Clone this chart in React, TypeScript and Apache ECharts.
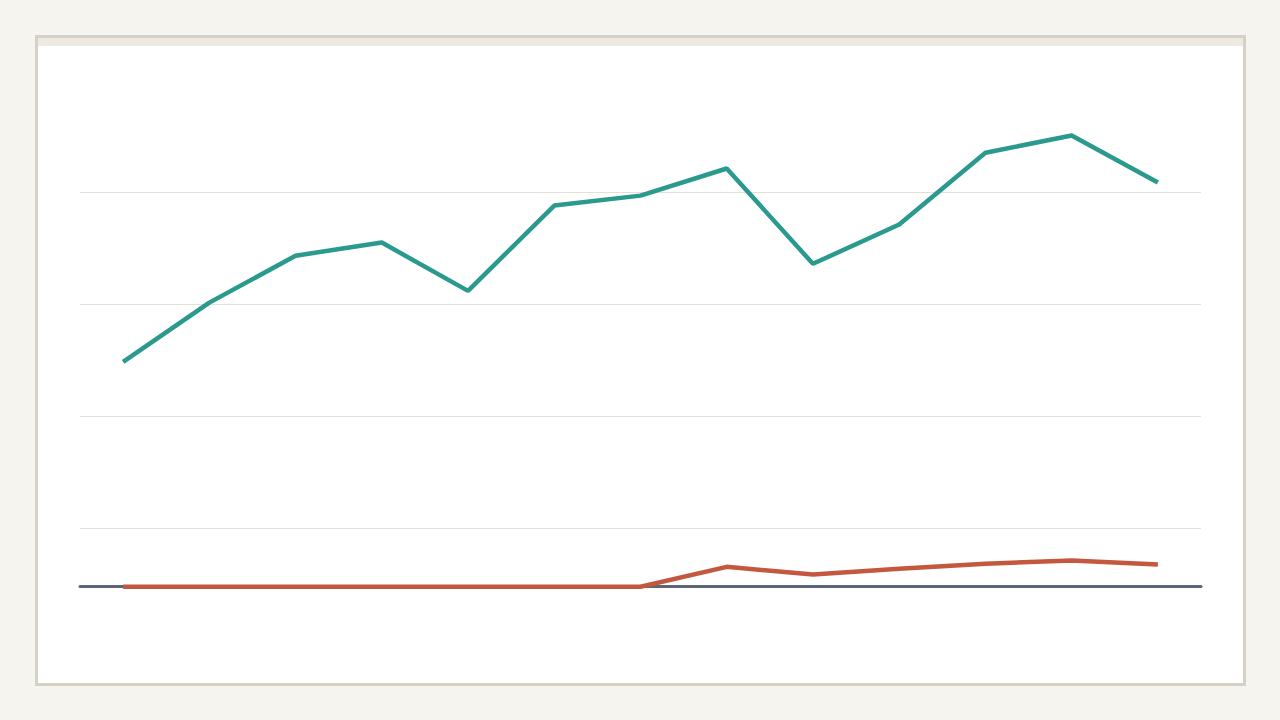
import React, { useEffect, useRef } from "react";
import * as echarts from "echarts";

const categories = ["1", "2", "3", "4", "5", "6", "7", "8", "9", "10", "11", "12", "13"];
const tealValues = [49.8, 62.9, 73.3, 76.2, 65.5, 84.4, 86.6, 92.6, 71.5, 80.2, 96.1, 99.9, 89.5];
const redValues = [0, 0, 0, 0, 0, 0, 0, 4.4, 2.7, 4.0, 5.1, 5.8, 4.9];
const yMin = -11.8;
const yMax = 112.2;

export default function App() {
  const ref = useRef<HTMLDivElement>(null);
  useEffect(() => {
    document.body.style.margin = "0";
    const chart = echarts.init(ref.current!, null, { renderer: "svg" });
    chart.setOption({
      animation: false,
      backgroundColor: "transparent",
      grid: { left: 80, right: 79, top: 80, bottom: 80, containLabel: false },
      xAxis: {
        type: "category",
        data: categories,
        boundaryGap: true,
        axisLine: { show: true, onZero: true, lineStyle: { color: "#5c6677", width: 3 } },
        axisTick: { show: false },
        axisLabel: { show: false },
        splitLine: { show: false },
      },
      yAxis: [
        {
          type: "value",
          min: yMin,
          max: yMax,
          axisLine: { show: false },
          axisTick: { show: false },
          axisLabel: { show: false },
          splitLine: { show: false },
        },
        {
          type: "value",
          min: 0,
          max: 5,
          interval: 1,
          position: "left",
          axisLine: { show: false },
          axisTick: { show: false },
          axisLabel: { show: false },
          splitLine: { show: true, showMinLine: false, showMaxLine: false, lineStyle: { color: "#e3e0d6", width: 1 } },
        },
      ],
      series: [
        {
          type: "line",
          data: tealValues,
          yAxisIndex: 0,
          symbol: "none",
          lineStyle: { color: "#2a998e", width: 4.5 },
          z: 3,
        },
        {
          type: "line",
          data: redValues,
          yAxisIndex: 0,
          symbol: "none",
          lineStyle: { color: "#c4583f", width: 4.5 },
          z: 4,
        },
      ],
    });
    return () => chart.dispose();
  }, []);
  return (
    <div style={{ position: "absolute", left: 0, top: 0, width: 1280, height: 720, background: "#f5f4ef" }}>
      <div
        style={{
          position: "absolute",
          left: 35,
          top: 35,
          width: 1211,
          height: 651,
          boxSizing: "border-box",
          border: "3px solid #d6d1c6",
          background: "#ffffff",
        }}
      >
        <div style={{ height: 8, background: "#ede9e0" }} />
      </div>
      <div ref={ref} style={{ position: "absolute", left: 0, top: 0, width: 1280, height: 720 }} />
    </div>
  );
}
